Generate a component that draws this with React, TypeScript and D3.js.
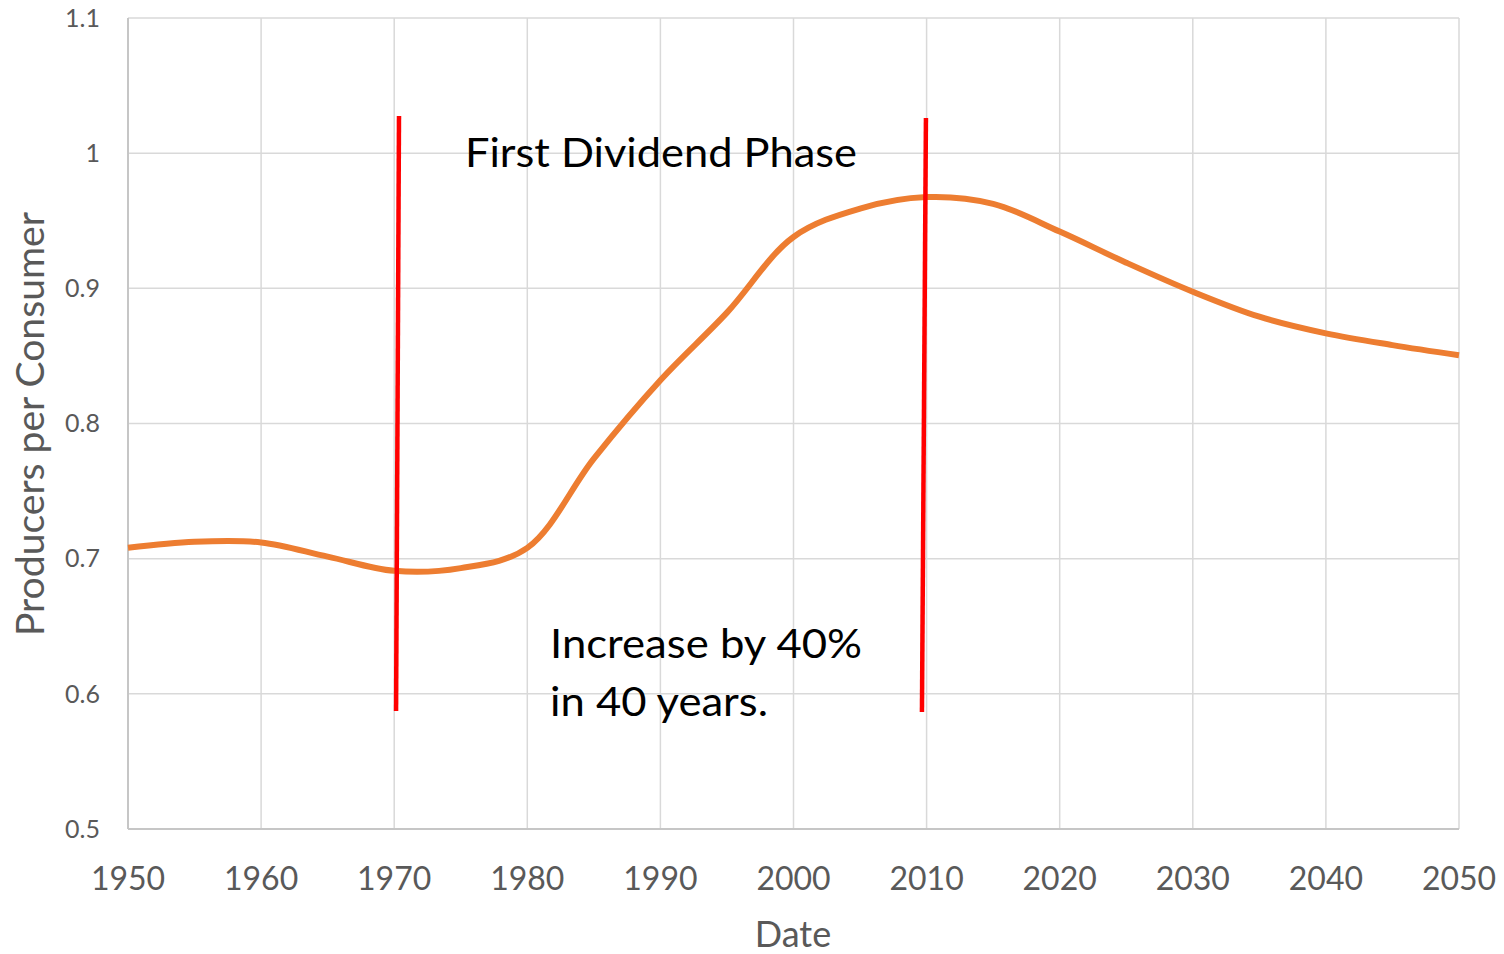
import React from "react";
import * as d3 from "d3";

const years = [1950, 1955, 1960, 1965, 1970, 1975, 1980, 1985, 1990, 1995, 2000, 2005, 2010, 2015, 2020, 2025, 2030, 2035, 2040, 2045, 2050];
const ratio = [0.708, 0.7125, 0.712, 0.7015, 0.691, 0.693, 0.708, 0.774, 0.832, 0.882, 0.938, 0.959, 0.9675, 0.9625, 0.942, 0.919, 0.8975, 0.879, 0.8667, 0.858, 0.8505];

const xTicks = [1950, 1960, 1970, 1980, 1990, 2000, 2010, 2020, 2030, 2040, 2050];
const yTicks = [0.5, 0.6, 0.7, 0.8, 0.9, 1.0, 1.1];
const yTickLabels = ["0.5", "0.6", "0.7", "0.8", "0.9", "1", "1.1"];

// phase boundary markers (hand-drawn lines), in data coordinates
const markerX1 = [1970.36, 2009.95];
const markerY1 = [1.0275, 1.026];
const markerX2 = [1970.14, 2009.65];
const markerY2 = [0.5873, 0.5866];

const FONT = "Lato, 'Open Sans', sans-serif";

export default function App() {
  const W = 1504, H = 954;
  const left = 128, right = 1459, top = 18, bottom = 829;
  const x = d3.scaleLinear().domain([1950, 2050]).range([left, right]);
  const y = d3.scaleLinear().domain([0.5, 1.1]).range([bottom, top]);
  const pts: [number, number][] = years.map((yr, i) => [yr, ratio[i]]);
  const line = d3.line<[number, number]>()
    .x(d => x(d[0]))
    .y(d => y(d[1]))
    .curve(d3.curveCatmullRom.alpha(0.5));

  return (
    <svg width={W} height={H} style={{ position: "absolute", left: 0, top: 0, background: "#fff" }}>
      <rect x={0} y={0} width={W} height={H} fill="#fff" />
      {/* grid */}
      {yTicks.map((t, i) => (
        <line key={"gy" + i} x1={left} x2={right} y1={y(t)} y2={y(t)} stroke="#d9d9d9" strokeWidth={1.5} />
      ))}
      {xTicks.map((t, i) => (
        <line key={"gx" + i} x1={x(t)} x2={x(t)} y1={top} y2={bottom} stroke="#d9d9d9" strokeWidth={1.5} />
      ))}
      {/* axes */}
      <line x1={left} x2={left} y1={top} y2={bottom} stroke="#c6c6c6" strokeWidth={2} />
      <line x1={left} x2={right} y1={bottom} y2={bottom} stroke="#c6c6c6" strokeWidth={2} />
      {/* y tick labels */}
      {yTicks.map((t, i) => (
        <text key={"yl" + i} x={100} y={y(t)} dy="0.35em" textAnchor="end" fontFamily={FONT} fontSize={25} fill="#595959">
          {yTickLabels[i]}
        </text>
      ))}
      {/* x tick labels */}
      {xTicks.map((t, i) => (
        <text key={"xl" + i} x={x(t)} y={890} textAnchor="middle" fontFamily={FONT} fontSize={32} fill="#595959">
          {t}
        </text>
      ))}
      {/* axis titles */}
      <text x={793} y={947} textAnchor="middle" fontFamily={FONT} fontSize={36} fill="#595959">Date</text>
      <text transform={`translate(44,424) rotate(-90)`} textAnchor="middle" fontFamily={FONT} fontSize={38} fill="#595959"
        textLength={424} lengthAdjust="spacingAndGlyphs">Producers per Consumer</text>
      {/* series */}
      <path d={line(pts) || ""} fill="none" stroke="#ED7D31" strokeWidth={6} strokeLinejoin="round" strokeLinecap="butt" />
      {/* markers */}
      {markerX1.map((mx, i) => (
        <line key={"m" + i} x1={x(mx)} y1={y(markerY1[i])} x2={x(markerX2[i])} y2={y(markerY2[i])} stroke="#ff0000" strokeWidth={4.5} />
      ))}
      {/* annotations */}
      <text x={465} y={167} fontFamily={FONT} fontSize={41} fill="#000" textLength={392} lengthAdjust="spacingAndGlyphs">First Dividend Phase</text>
      <text x={550} y={658} fontFamily={FONT} fontSize={41} fill="#000" textLength={312} lengthAdjust="spacingAndGlyphs">Increase by 40%</text>
      <text x={550} y={716} fontFamily={FONT} fontSize={41} fill="#000" textLength={218} lengthAdjust="spacingAndGlyphs">in 40 years.</text>
    </svg>
  );
}
